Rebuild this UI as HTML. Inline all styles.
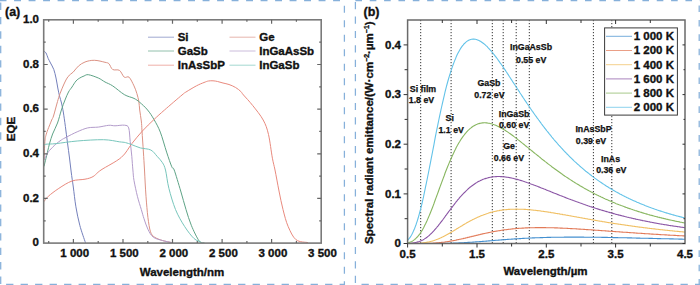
<!DOCTYPE html>
<html><head><meta charset="utf-8"><style>
html,body{margin:0;padding:0;background:#fff;}
svg{display:block;}
</style></head><body>
<svg width="700" height="285" viewBox="0 0 700 285">
<rect width="700" height="285" fill="#fff"/>
<g stroke="#86b0da" stroke-width="1.25" fill="none">
<line x1="0" y1="0.7" x2="345" y2="0.7" stroke-dasharray="6.9 7.60" stroke-dashoffset="0.40"/>
<line x1="0.7" y1="0" x2="0.7" y2="285" stroke-dasharray="7.4 7.02" stroke-dashoffset="11.92"/>
<line x1="0" y1="284.3" x2="345" y2="284.3" stroke-dasharray="7.3 7.20" stroke-dashoffset="8.40"/>
<line x1="344.4" y1="0" x2="344.4" y2="285" stroke-dasharray="6.9 7.60" stroke-dashoffset="8.70"/>
<line x1="355.4" y1="0.7" x2="700" y2="0.7" stroke-dasharray="6.6 7.75" stroke-dashoffset="0.00"/>
<line x1="355.4" y1="0" x2="355.4" y2="285" stroke-dasharray="7.2 7.20" stroke-dashoffset="12.30"/>
<line x1="355.4" y1="284.3" x2="700" y2="284.3" stroke-dasharray="7.3 7.20" stroke-dashoffset="8.40"/>
<line x1="699.2" y1="0" x2="699.2" y2="285" stroke-dasharray="6.6 7.80" stroke-dashoffset="8.90"/>
</g>
<path d="M44.0,51.2 C44.3,51.5 45.3,51.8 46.0,53.0 C46.7,54.2 47.5,56.8 48.2,58.5 C49.0,60.2 49.6,61.2 50.5,63.0 C51.4,64.8 52.9,67.0 53.8,69.5 C54.7,72.0 55.3,74.9 56.0,78.0 C56.7,81.1 57.2,85.0 57.8,88.0 C58.4,91.0 58.9,93.5 59.5,96.0 C60.1,98.5 60.9,100.3 61.5,103.0 C62.1,105.7 62.6,108.1 63.3,112.0 C63.9,115.9 64.7,121.4 65.4,126.6 C66.1,131.8 66.8,137.8 67.5,143.0 C68.2,148.2 68.9,153.2 69.5,158.0 C70.1,162.8 70.6,167.2 71.2,172.0 C71.8,176.8 72.5,181.2 73.3,187.0 C74.1,192.8 74.8,200.4 75.9,206.8 C77.0,213.2 78.2,219.3 79.8,225.3 C81.4,231.3 84.5,239.9 85.5,242.8" fill="none" stroke="#7480bb" stroke-width="1" stroke-linejoin="round"/>
<path d="M44.0,160.0 C44.1,156.9 44.6,145.4 44.9,141.3 C45.2,137.2 45.4,137.4 45.9,135.5 C46.4,133.6 46.8,132.3 47.8,129.7 C48.8,127.1 50.8,122.3 51.7,120.0 C52.7,117.7 52.5,119.1 53.5,116.0 C54.5,112.9 56.4,105.3 57.5,101.6 C58.6,97.9 58.9,96.6 60.0,93.7 C61.1,90.8 62.7,86.8 64.0,84.0 C65.3,81.2 66.5,78.6 68.0,76.6 C69.5,74.6 71.5,73.8 73.3,72.0 C75.0,70.2 76.5,67.7 78.5,66.0 C80.5,64.3 82.4,63.0 85.0,62.0 C87.6,61.0 91.0,60.2 94.3,60.3 C97.6,60.3 102.6,61.7 105.0,62.3 C107.4,62.9 107.6,62.5 108.9,63.7 C110.2,64.9 110.9,68.4 112.7,69.5 C114.5,70.6 117.6,69.1 119.5,70.4 C121.4,71.7 122.7,76.1 124.3,77.2 C125.9,78.3 127.5,75.8 129.1,77.2 C130.7,78.7 132.7,83.2 134.0,85.9 C135.3,88.6 136.1,91.0 136.9,93.6 C137.7,96.2 138.3,98.6 138.8,101.3 C139.3,104.0 139.3,106.7 139.7,110.0 C140.1,113.3 140.9,117.5 141.3,121.0 C141.7,124.5 141.7,125.8 142.0,131.0 C142.3,136.2 143.0,145.5 143.4,152.0 C143.8,158.5 144.1,162.6 144.5,170.0 C144.9,177.4 145.4,188.4 146.0,196.3 C146.6,204.2 147.2,211.5 147.9,217.4 C148.7,223.3 149.4,228.5 150.5,231.8 C151.6,235.1 152.5,235.7 154.5,237.1 C156.5,238.5 159.6,239.6 162.4,240.5 C165.2,241.4 170.1,242.2 171.6,242.6" fill="none" stroke="#dc9284" stroke-width="1" stroke-linejoin="round"/>
<path d="M44.0,166.4 C44.3,165.1 45.3,161.1 45.9,158.7 C46.5,156.3 46.9,154.6 47.5,152.0 C48.1,149.4 48.9,146.0 49.7,143.0 C50.6,140.0 51.3,137.3 52.6,134.0 C53.9,130.7 56.0,127.0 57.5,123.0 C59.0,119.0 60.1,113.8 61.4,110.0 C62.6,106.2 63.8,103.0 65.0,100.0 C66.2,97.0 67.3,94.2 68.5,92.0 C69.7,89.8 70.8,88.8 72.0,87.0 C73.2,85.2 74.7,82.5 76.0,81.0 C77.3,79.5 78.5,78.8 79.8,78.0 C81.1,77.2 82.6,76.5 84.0,76.0 C85.4,75.5 85.9,74.4 88.3,74.7 C90.7,75.0 95.5,76.8 98.3,78.0 C101.1,79.2 102.6,80.7 105.0,82.0 C107.4,83.3 109.5,83.8 112.7,85.9 C115.9,88.0 120.8,92.5 124.3,94.6 C127.8,96.7 131.4,97.1 134.0,98.4 C136.6,99.7 137.4,100.4 139.7,102.3 C142.0,104.2 145.2,107.1 147.6,110.0 C150.0,112.9 151.9,115.8 154.0,119.5 C156.1,123.2 158.2,126.7 160.3,132.1 C162.4,137.5 164.7,146.3 166.6,152.1 C168.5,157.9 170.5,163.8 171.8,166.8 C173.1,169.8 172.7,166.0 174.2,170.0 C175.7,174.0 178.7,184.4 180.7,191.0 C182.7,197.6 184.2,203.8 186.0,209.5 C187.8,215.2 189.1,220.1 191.3,225.3 C193.5,230.6 197.0,238.1 199.2,241.0 C201.4,243.9 203.5,242.5 204.4,242.8" fill="none" stroke="#5ea386" stroke-width="1" stroke-linejoin="round"/>
<path d="M44.5,159.5 C44.8,158.8 45.5,156.8 46.3,155.3 C47.1,153.8 47.9,152.3 49.5,150.5 C51.1,148.7 53.8,145.9 55.8,144.2 C57.8,142.4 59.5,141.2 61.3,140.0 C63.1,138.8 64.0,138.4 66.7,137.0 C69.4,135.6 73.7,133.3 77.2,131.8 C80.7,130.3 84.2,128.7 87.7,127.9 C91.2,127.1 94.8,127.5 98.3,127.1 C101.8,126.7 106.0,125.5 108.8,125.3 C111.6,125.1 112.4,125.8 115.0,125.8 C117.6,125.8 122.2,124.8 124.5,125.2 C126.8,125.6 127.7,125.2 128.7,127.9 C129.6,130.6 129.7,136.9 130.2,141.6 C130.7,146.3 131.4,151.6 131.8,156.3 C132.2,161.0 132.5,166.0 132.9,170.0 C133.3,174.0 133.2,176.1 134.0,180.5 C134.8,184.9 136.2,191.5 137.4,196.3 C138.6,201.1 140.2,205.8 141.3,209.5 C142.4,213.2 142.9,215.4 144.0,218.7 C145.1,222.0 146.4,226.1 147.9,229.2 C149.4,232.3 150.8,235.2 153.2,237.1 C155.6,239.0 159.3,239.6 162.4,240.5 C165.5,241.4 170.1,242.2 171.6,242.6" fill="none" stroke="#b39ccb" stroke-width="1" stroke-linejoin="round"/>
<path d="M44.0,201.6 C44.7,200.7 45.8,198.5 48.3,196.3 C50.8,194.1 54.8,191.0 58.8,188.4 C62.8,185.8 67.6,182.5 72.0,181.0 C76.4,179.5 81.5,179.9 85.0,179.2 C88.5,178.5 90.3,178.1 93.0,176.6 C95.7,175.1 96.3,173.2 101.0,170.0 C105.7,166.8 116.2,161.8 121.3,157.4 C126.4,153.0 128.3,148.1 131.8,143.7 C135.3,139.3 138.7,135.0 142.4,131.0 C146.1,127.0 150.3,123.0 154.0,119.5 C157.7,116.0 159.8,114.1 164.5,110.0 C169.2,105.9 178.4,98.0 182.0,95.0 C185.6,92.0 183.6,93.5 186.0,92.0 C188.4,90.5 193.5,87.4 196.5,85.8 C199.5,84.2 202.0,83.3 204.0,82.5 C206.0,81.7 206.9,81.3 208.4,81.0 C209.9,80.7 211.5,80.7 213.0,80.8 C214.5,80.9 215.9,81.1 217.6,81.5 C219.3,81.9 221.1,82.5 223.0,83.0 C224.9,83.5 226.9,83.8 229.0,84.5 C231.1,85.2 233.6,86.3 235.6,87.5 C237.6,88.7 239.5,90.2 240.8,91.5 C242.1,92.8 241.5,92.7 243.5,95.0 C245.5,97.3 249.4,101.3 252.7,105.5 C256.0,109.7 260.6,115.2 263.2,120.0 C265.8,124.8 267.0,128.1 268.5,134.5 C270.0,140.9 271.3,152.3 272.4,158.2 C273.5,164.1 273.9,164.5 275.0,170.0 C276.1,175.5 277.7,184.4 279.0,191.0 C280.3,197.6 281.5,203.6 283.0,209.5 C284.5,215.4 286.0,221.6 288.2,226.6 C290.4,231.6 292.7,237.0 296.0,239.7 C299.3,242.4 306.0,242.1 308.0,242.6" fill="none" stroke="#e98a7e" stroke-width="1" stroke-linejoin="round"/>
<path d="M44.0,146.0 C44.2,145.7 43.5,144.7 45.5,144.3 C47.5,143.9 50.9,144.2 56.2,143.6 C61.5,143.0 69.3,141.7 77.2,141.0 C85.1,140.3 96.5,139.6 103.5,139.7 C110.5,139.8 115.6,141.3 119.3,141.8 C123.0,142.3 123.4,142.1 125.5,142.6 C127.6,143.1 129.3,143.8 131.8,144.7 C134.3,145.6 137.1,147.0 140.3,147.9 C143.5,148.8 148.0,148.6 150.8,150.0 C153.6,151.4 155.2,154.2 157.1,156.3 C159.0,158.4 161.0,160.3 162.4,162.6 C163.8,164.9 164.4,165.7 165.5,170.0 C166.6,174.3 167.2,181.8 168.9,188.4 C170.6,195.0 172.9,203.1 175.5,209.5 C178.1,215.9 181.6,221.8 184.7,226.6 C187.8,231.4 191.1,235.7 193.9,238.4 C196.8,241.1 200.5,241.9 201.8,242.6" fill="none" stroke="#78c6bc" stroke-width="1" stroke-linejoin="round"/>
<rect x="43.7" y="19.8" width="277.5" height="223.29999999999998" fill="none" stroke="#7a7a7a" stroke-width="1.6"/>
<path d="M48.7,243.1 v-2 M48.7,19.8 v2 M73.4,243.1 v-4 M73.4,19.8 v4 M98.2,243.1 v-2 M98.2,19.8 v2 M123.0,243.1 v-4 M123.0,19.8 v4 M147.8,243.1 v-2 M147.8,19.8 v2 M172.5,243.1 v-4 M172.5,19.8 v4 M197.3,243.1 v-2 M197.3,19.8 v2 M222.1,243.1 v-4 M222.1,19.8 v4 M246.9,243.1 v-2 M246.9,19.8 v2 M271.6,243.1 v-4 M271.6,19.8 v4 M296.4,243.1 v-2 M296.4,19.8 v2 M43.7,220.8 h2 M321.2,220.8 h-2 M43.7,198.4 h4 M321.2,198.4 h-4 M43.7,176.1 h2 M321.2,176.1 h-2 M43.7,153.8 h4 M321.2,153.8 h-4 M43.7,131.4 h2 M321.2,131.4 h-2 M43.7,109.1 h4 M321.2,109.1 h-4 M43.7,86.8 h2 M321.2,86.8 h-2 M43.7,64.5 h4 M321.2,64.5 h-4 M43.7,42.1 h2 M321.2,42.1 h-2" stroke="#666" stroke-width="1.2" fill="none"/>
<g font-family='"Liberation Sans", sans-serif' font-weight='bold' font-size='11.5' fill='#111' stroke='#111' stroke-width='0.35'>
<text x="74.7" y="257" text-anchor="middle">1 000</text>
<text x="124.3" y="257" text-anchor="middle">1 500</text>
<text x="173.8" y="257" text-anchor="middle">2 000</text>
<text x="223.4" y="257" text-anchor="middle">2 500</text>
<text x="272.9" y="257" text-anchor="middle">3 000</text>
<text x="322.5" y="257" text-anchor="middle">3 500</text>
<text x="39" y="246.4" text-anchor="end">0</text>
<text x="39" y="201.7" text-anchor="end">0.2</text>
<text x="39" y="157.1" text-anchor="end">0.4</text>
<text x="39" y="112.4" text-anchor="end">0.6</text>
<text x="39" y="67.8" text-anchor="end">0.8</text>
<text x="39" y="23.1" text-anchor="end">1.0</text>
</g>
<text x='182' y='275.5' text-anchor='middle' font-family='"Liberation Sans", sans-serif' font-weight='bold' font-size='11.5' fill='#111' stroke='#111' stroke-width='0.35'>Wavelength/nm</text>
<text transform='translate(15.2,129) rotate(-90)' text-anchor='middle' font-family='"Liberation Sans", sans-serif' font-weight='bold' font-size='11.5' fill='#111' stroke='#111' stroke-width='0.35'>EQE</text>
<text x='5' y='16' font-family='"Liberation Sans", sans-serif' font-weight='bold' font-size='12.5' fill='#111' stroke='#111' stroke-width='0.35'>(a)</text>
<line x1="148" y1="37.2" x2="174" y2="37.2" stroke="#7480bb" stroke-width="0.9" opacity="0.75"/>
<text x='177.7' y='41.0' font-family='"Liberation Sans", sans-serif' font-weight='bold' font-size='11.5' fill='#111' stroke='#111' stroke-width='0.35'>Si</text>
<line x1="148" y1="51" x2="174" y2="51" stroke="#5ea386" stroke-width="0.9" opacity="0.75"/>
<text x='177.7' y='54.8' font-family='"Liberation Sans", sans-serif' font-weight='bold' font-size='11.5' fill='#111' stroke='#111' stroke-width='0.35'>GaSb</text>
<line x1="148" y1="65.2" x2="174" y2="65.2" stroke="#e98a7e" stroke-width="0.9" opacity="0.75"/>
<text x='177.7' y='69.0' font-family='"Liberation Sans", sans-serif' font-weight='bold' font-size='11.5' fill='#111' stroke='#111' stroke-width='0.35'>InAsSbP</text>
<line x1="229.5" y1="37.2" x2="255.5" y2="37.2" stroke="#dc9284" stroke-width="0.9" opacity="0.75"/>
<text x='259.2' y='41.0' font-family='"Liberation Sans", sans-serif' font-weight='bold' font-size='11.5' fill='#111' stroke='#111' stroke-width='0.35'>Ge</text>
<line x1="229.5" y1="51" x2="255.5" y2="51" stroke="#b39ccb" stroke-width="0.9" opacity="0.75"/>
<text x='259.2' y='54.8' font-family='"Liberation Sans", sans-serif' font-weight='bold' font-size='11.5' fill='#111' stroke='#111' stroke-width='0.35'>InGaAsSb</text>
<line x1="229.5" y1="65.2" x2="255.5" y2="65.2" stroke="#78c6bc" stroke-width="0.9" opacity="0.75"/>
<text x='259.2' y='69.0' font-family='"Liberation Sans", sans-serif' font-weight='bold' font-size='11.5' fill='#111' stroke='#111' stroke-width='0.35'>InGaSb</text>
<line x1="420.7" y1="20.0" x2="420.7" y2="243.5" stroke="#333" stroke-width="1" stroke-dasharray="1.2 1.8"/>
<line x1="451.1" y1="20.0" x2="451.1" y2="243.5" stroke="#333" stroke-width="1" stroke-dasharray="1.2 1.8"/>
<line x1="492.3" y1="20.0" x2="492.3" y2="243.5" stroke="#333" stroke-width="1" stroke-dasharray="1.2 1.8"/>
<line x1="503.2" y1="20.0" x2="503.2" y2="243.5" stroke="#333" stroke-width="1" stroke-dasharray="1.2 1.8"/>
<line x1="516.2" y1="20.0" x2="516.2" y2="243.5" stroke="#333" stroke-width="1" stroke-dasharray="1.2 1.8"/>
<line x1="529.3" y1="20.0" x2="529.3" y2="243.5" stroke="#333" stroke-width="1" stroke-dasharray="1.2 1.8"/>
<line x1="593.4" y1="20.0" x2="593.4" y2="243.5" stroke="#333" stroke-width="1" stroke-dasharray="1.2 1.8"/>
<line x1="611.8" y1="20.0" x2="611.8" y2="243.5" stroke="#333" stroke-width="1" stroke-dasharray="1.2 1.8"/>
<path d="M407.6,243.5 L408.3,243.5 L409.0,243.5 L409.7,243.5 L410.4,243.5 L411.1,243.5 L411.8,243.5 L412.5,243.5 L413.1,243.5 L413.8,243.5 L414.5,243.5 L415.2,243.5 L415.9,243.5 L416.6,243.5 L417.3,243.5 L418.0,243.5 L418.7,243.5 L419.4,243.5 L420.1,243.5 L420.8,243.5 L421.5,243.5 L422.2,243.5 L422.9,243.5 L423.6,243.5 L424.2,243.5 L424.9,243.5 L425.6,243.5 L426.3,243.5 L427.0,243.5 L427.7,243.5 L428.4,243.5 L429.1,243.5 L429.8,243.5 L430.5,243.5 L431.2,243.5 L431.9,243.5 L432.6,243.5 L433.3,243.5 L434.0,243.5 L434.6,243.5 L435.3,243.5 L436.0,243.5 L436.7,243.5 L437.4,243.4 L438.1,243.4 L438.8,243.4 L439.5,243.4 L440.2,243.4 L440.9,243.4 L441.6,243.4 L442.3,243.4 L443.0,243.4 L443.7,243.4 L444.4,243.4 L445.0,243.4 L445.7,243.3 L446.4,243.3 L447.1,243.3 L447.8,243.3 L448.5,243.3 L449.2,243.3 L449.9,243.2 L450.6,243.2 L451.3,243.2 L452.0,243.2 L452.7,243.2 L453.4,243.1 L454.1,243.1 L454.8,243.1 L455.5,243.1 L456.1,243.0 L456.8,243.0 L457.5,243.0 L458.2,243.0 L458.9,242.9 L459.6,242.9 L460.3,242.9 L461.0,242.8 L461.7,242.8 L462.4,242.8 L463.1,242.7 L463.8,242.7 L464.5,242.6 L465.2,242.6 L465.9,242.6 L466.5,242.5 L467.2,242.5 L467.9,242.4 L468.6,242.4 L469.3,242.4 L470.0,242.3 L470.7,242.3 L471.4,242.2 L472.1,242.2 L472.8,242.1 L473.5,242.1 L474.2,242.0 L474.9,242.0 L475.6,241.9 L476.3,241.9 L477.0,241.8 L477.6,241.8 L478.3,241.7 L479.0,241.7 L479.7,241.6 L480.4,241.6 L481.1,241.5 L481.8,241.5 L482.5,241.4 L483.2,241.4 L483.9,241.3 L484.6,241.2 L485.3,241.2 L486.0,241.1 L486.7,241.1 L487.4,241.0 L488.0,241.0 L488.7,240.9 L489.4,240.9 L490.1,240.8 L490.8,240.7 L491.5,240.7 L492.2,240.6 L492.9,240.6 L493.6,240.5 L494.3,240.5 L495.0,240.4 L495.7,240.3 L496.4,240.3 L497.1,240.2 L497.8,240.2 L498.4,240.1 L499.1,240.1 L499.8,240.0 L500.5,240.0 L501.2,239.9 L501.9,239.9 L502.6,239.8 L503.3,239.7 L504.0,239.7 L504.7,239.6 L505.4,239.6 L506.1,239.5 L506.8,239.5 L507.5,239.4 L508.2,239.4 L508.9,239.3 L509.5,239.3 L510.2,239.2 L510.9,239.2 L511.6,239.1 L512.3,239.1 L513.0,239.0 L513.7,239.0 L514.4,238.9 L515.1,238.9 L515.8,238.9 L516.5,238.8 L517.2,238.8 L517.9,238.7 L518.6,238.7 L519.3,238.6 L519.9,238.6 L520.6,238.6 L521.3,238.5 L522.0,238.5 L522.7,238.4 L523.4,238.4 L524.1,238.4 L524.8,238.3 L525.5,238.3 L526.2,238.2 L526.9,238.2 L527.6,238.2 L528.3,238.1 L529.0,238.1 L529.7,238.1 L530.3,238.0 L531.0,238.0 L531.7,238.0 L532.4,237.9 L533.1,237.9 L533.8,237.9 L534.5,237.9 L535.2,237.8 L535.9,237.8 L536.6,237.8 L537.3,237.8 L538.0,237.7 L538.7,237.7 L539.4,237.7 L540.1,237.6 L540.8,237.6 L541.4,237.6 L542.1,237.6 L542.8,237.6 L543.5,237.5 L544.2,237.5 L544.9,237.5 L545.6,237.5 L546.3,237.5 L547.0,237.4 L547.7,237.4 L548.4,237.4 L549.1,237.4 L549.8,237.4 L550.5,237.4 L551.2,237.3 L551.8,237.3 L552.5,237.3 L553.2,237.3 L553.9,237.3 L554.6,237.3 L555.3,237.3 L556.0,237.2 L556.7,237.2 L557.4,237.2 L558.1,237.2 L558.8,237.2 L559.5,237.2 L560.2,237.2 L560.9,237.2 L561.6,237.2 L562.3,237.2 L562.9,237.2 L563.6,237.2 L564.3,237.1 L565.0,237.1 L565.7,237.1 L566.4,237.1 L567.1,237.1 L567.8,237.1 L568.5,237.1 L569.2,237.1 L569.9,237.1 L570.6,237.1 L571.3,237.1 L572.0,237.1 L572.7,237.1 L573.3,237.1 L574.0,237.1 L574.7,237.1 L575.4,237.1 L576.1,237.1 L576.8,237.1 L577.5,237.1 L578.2,237.1 L578.9,237.1 L579.6,237.1 L580.3,237.1 L581.0,237.1 L581.7,237.1 L582.4,237.1 L583.1,237.1 L583.7,237.1 L584.4,237.2 L585.1,237.2 L585.8,237.2 L586.5,237.2 L587.2,237.2 L587.9,237.2 L588.6,237.2 L589.3,237.2 L590.0,237.2 L590.7,237.2 L591.4,237.2 L592.1,237.2 L592.8,237.2 L593.5,237.2 L594.2,237.2 L594.8,237.3 L595.5,237.3 L596.2,237.3 L596.9,237.3 L597.6,237.3 L598.3,237.3 L599.0,237.3 L599.7,237.3 L600.4,237.3 L601.1,237.3 L601.8,237.4 L602.5,237.4 L603.2,237.4 L603.9,237.4 L604.6,237.4 L605.2,237.4 L605.9,237.4 L606.6,237.4 L607.3,237.4 L608.0,237.5 L608.7,237.5 L609.4,237.5 L610.1,237.5 L610.8,237.5 L611.5,237.5 L612.2,237.5 L612.9,237.6 L613.6,237.6 L614.3,237.6 L615.0,237.6 L615.6,237.6 L616.3,237.6 L617.0,237.6 L617.7,237.6 L618.4,237.7 L619.1,237.7 L619.8,237.7 L620.5,237.7 L621.2,237.7 L621.9,237.7 L622.6,237.7 L623.3,237.8 L624.0,237.8 L624.7,237.8 L625.4,237.8 L626.1,237.8 L626.7,237.8 L627.4,237.9 L628.1,237.9 L628.8,237.9 L629.5,237.9 L630.2,237.9 L630.9,237.9 L631.6,237.9 L632.3,238.0 L633.0,238.0 L633.7,238.0 L634.4,238.0 L635.1,238.0 L635.8,238.0 L636.5,238.1 L637.1,238.1 L637.8,238.1 L638.5,238.1 L639.2,238.1 L639.9,238.1 L640.6,238.2 L641.3,238.2 L642.0,238.2 L642.7,238.2 L643.4,238.2 L644.1,238.2 L644.8,238.3 L645.5,238.3 L646.2,238.3 L646.9,238.3 L647.6,238.3 L648.2,238.3 L648.9,238.4 L649.6,238.4 L650.3,238.4 L651.0,238.4 L651.7,238.4 L652.4,238.4 L653.1,238.5 L653.8,238.5 L654.5,238.5 L655.2,238.5 L655.9,238.5 L656.6,238.5 L657.3,238.6 L658.0,238.6 L658.6,238.6 L659.3,238.6 L660.0,238.6 L660.7,238.6 L661.4,238.7 L662.1,238.7 L662.8,238.7 L663.5,238.7 L664.2,238.7 L664.9,238.7 L665.6,238.8 L666.3,238.8 L667.0,238.8 L667.7,238.8 L668.4,238.8 L669.0,238.8 L669.7,238.9 L670.4,238.9 L671.1,238.9 L671.8,238.9 L672.5,238.9 L673.2,238.9 L673.9,239.0 L674.6,239.0 L675.3,239.0 L676.0,239.0 L676.7,239.0 L677.4,239.0 L678.1,239.0 L678.8,239.1 L679.5,239.1 L680.1,239.1 L680.8,239.1 L681.5,239.1 L682.2,239.1 L682.9,239.2 L683.6,239.2 L684.3,239.2 L685.0,239.2" fill="none" stroke="#4490d0" stroke-width="1.1"/>
<path d="M407.6,243.5 L408.3,243.5 L409.0,243.5 L409.7,243.5 L410.4,243.5 L411.1,243.5 L411.8,243.5 L412.5,243.5 L413.1,243.5 L413.8,243.5 L414.5,243.5 L415.2,243.5 L415.9,243.5 L416.6,243.5 L417.3,243.5 L418.0,243.5 L418.7,243.5 L419.4,243.5 L420.1,243.5 L420.8,243.5 L421.5,243.5 L422.2,243.5 L422.9,243.4 L423.6,243.4 L424.2,243.4 L424.9,243.4 L425.6,243.4 L426.3,243.4 L427.0,243.4 L427.7,243.3 L428.4,243.3 L429.1,243.3 L429.8,243.3 L430.5,243.2 L431.2,243.2 L431.9,243.2 L432.6,243.2 L433.3,243.1 L434.0,243.1 L434.6,243.0 L435.3,243.0 L436.0,242.9 L436.7,242.9 L437.4,242.8 L438.1,242.8 L438.8,242.7 L439.5,242.6 L440.2,242.6 L440.9,242.5 L441.6,242.4 L442.3,242.3 L443.0,242.3 L443.7,242.2 L444.4,242.1 L445.0,242.0 L445.7,241.9 L446.4,241.8 L447.1,241.7 L447.8,241.6 L448.5,241.5 L449.2,241.4 L449.9,241.3 L450.6,241.1 L451.3,241.0 L452.0,240.9 L452.7,240.8 L453.4,240.6 L454.1,240.5 L454.8,240.4 L455.5,240.2 L456.1,240.1 L456.8,239.9 L457.5,239.8 L458.2,239.6 L458.9,239.5 L459.6,239.3 L460.3,239.2 L461.0,239.0 L461.7,238.9 L462.4,238.7 L463.1,238.6 L463.8,238.4 L464.5,238.2 L465.2,238.1 L465.9,237.9 L466.5,237.7 L467.2,237.6 L467.9,237.4 L468.6,237.2 L469.3,237.1 L470.0,236.9 L470.7,236.7 L471.4,236.6 L472.1,236.4 L472.8,236.2 L473.5,236.1 L474.2,235.9 L474.9,235.7 L475.6,235.6 L476.3,235.4 L477.0,235.2 L477.6,235.1 L478.3,234.9 L479.0,234.7 L479.7,234.6 L480.4,234.4 L481.1,234.3 L481.8,234.1 L482.5,233.9 L483.2,233.8 L483.9,233.6 L484.6,233.5 L485.3,233.3 L486.0,233.2 L486.7,233.0 L487.4,232.9 L488.0,232.7 L488.7,232.6 L489.4,232.5 L490.1,232.3 L490.8,232.2 L491.5,232.0 L492.2,231.9 L492.9,231.8 L493.6,231.6 L494.3,231.5 L495.0,231.4 L495.7,231.3 L496.4,231.1 L497.1,231.0 L497.8,230.9 L498.4,230.8 L499.1,230.7 L499.8,230.6 L500.5,230.5 L501.2,230.3 L501.9,230.2 L502.6,230.1 L503.3,230.0 L504.0,229.9 L504.7,229.8 L505.4,229.7 L506.1,229.7 L506.8,229.6 L507.5,229.5 L508.2,229.4 L508.9,229.3 L509.5,229.2 L510.2,229.2 L510.9,229.1 L511.6,229.0 L512.3,228.9 L513.0,228.9 L513.7,228.8 L514.4,228.7 L515.1,228.7 L515.8,228.6 L516.5,228.5 L517.2,228.5 L517.9,228.4 L518.6,228.4 L519.3,228.3 L519.9,228.3 L520.6,228.2 L521.3,228.2 L522.0,228.1 L522.7,228.1 L523.4,228.1 L524.1,228.0 L524.8,228.0 L525.5,227.9 L526.2,227.9 L526.9,227.9 L527.6,227.9 L528.3,227.8 L529.0,227.8 L529.7,227.8 L530.3,227.8 L531.0,227.7 L531.7,227.7 L532.4,227.7 L533.1,227.7 L533.8,227.7 L534.5,227.7 L535.2,227.6 L535.9,227.6 L536.6,227.6 L537.3,227.6 L538.0,227.6 L538.7,227.6 L539.4,227.6 L540.1,227.6 L540.8,227.6 L541.4,227.6 L542.1,227.6 L542.8,227.6 L543.5,227.6 L544.2,227.6 L544.9,227.6 L545.6,227.6 L546.3,227.7 L547.0,227.7 L547.7,227.7 L548.4,227.7 L549.1,227.7 L549.8,227.7 L550.5,227.7 L551.2,227.8 L551.8,227.8 L552.5,227.8 L553.2,227.8 L553.9,227.8 L554.6,227.9 L555.3,227.9 L556.0,227.9 L556.7,227.9 L557.4,227.9 L558.1,228.0 L558.8,228.0 L559.5,228.0 L560.2,228.1 L560.9,228.1 L561.6,228.1 L562.3,228.1 L562.9,228.2 L563.6,228.2 L564.3,228.2 L565.0,228.3 L565.7,228.3 L566.4,228.3 L567.1,228.4 L567.8,228.4 L568.5,228.5 L569.2,228.5 L569.9,228.5 L570.6,228.6 L571.3,228.6 L572.0,228.6 L572.7,228.7 L573.3,228.7 L574.0,228.8 L574.7,228.8 L575.4,228.8 L576.1,228.9 L576.8,228.9 L577.5,229.0 L578.2,229.0 L578.9,229.1 L579.6,229.1 L580.3,229.1 L581.0,229.2 L581.7,229.2 L582.4,229.3 L583.1,229.3 L583.7,229.4 L584.4,229.4 L585.1,229.5 L585.8,229.5 L586.5,229.6 L587.2,229.6 L587.9,229.6 L588.6,229.7 L589.3,229.7 L590.0,229.8 L590.7,229.8 L591.4,229.9 L592.1,229.9 L592.8,230.0 L593.5,230.0 L594.2,230.1 L594.8,230.1 L595.5,230.2 L596.2,230.2 L596.9,230.3 L597.6,230.3 L598.3,230.4 L599.0,230.4 L599.7,230.5 L600.4,230.5 L601.1,230.6 L601.8,230.6 L602.5,230.7 L603.2,230.7 L603.9,230.8 L604.6,230.8 L605.2,230.9 L605.9,230.9 L606.6,231.0 L607.3,231.0 L608.0,231.1 L608.7,231.1 L609.4,231.2 L610.1,231.2 L610.8,231.3 L611.5,231.3 L612.2,231.4 L612.9,231.4 L613.6,231.5 L614.3,231.5 L615.0,231.6 L615.6,231.6 L616.3,231.7 L617.0,231.7 L617.7,231.8 L618.4,231.8 L619.1,231.9 L619.8,231.9 L620.5,232.0 L621.2,232.0 L621.9,232.1 L622.6,232.1 L623.3,232.2 L624.0,232.2 L624.7,232.2 L625.4,232.3 L626.1,232.3 L626.7,232.4 L627.4,232.4 L628.1,232.5 L628.8,232.5 L629.5,232.6 L630.2,232.6 L630.9,232.7 L631.6,232.7 L632.3,232.8 L633.0,232.8 L633.7,232.9 L634.4,232.9 L635.1,233.0 L635.8,233.0 L636.5,233.1 L637.1,233.1 L637.8,233.2 L638.5,233.2 L639.2,233.2 L639.9,233.3 L640.6,233.3 L641.3,233.4 L642.0,233.4 L642.7,233.5 L643.4,233.5 L644.1,233.6 L644.8,233.6 L645.5,233.7 L646.2,233.7 L646.9,233.7 L647.6,233.8 L648.2,233.8 L648.9,233.9 L649.6,233.9 L650.3,234.0 L651.0,234.0 L651.7,234.1 L652.4,234.1 L653.1,234.1 L653.8,234.2 L654.5,234.2 L655.2,234.3 L655.9,234.3 L656.6,234.4 L657.3,234.4 L658.0,234.4 L658.6,234.5 L659.3,234.5 L660.0,234.6 L660.7,234.6 L661.4,234.7 L662.1,234.7 L662.8,234.7 L663.5,234.8 L664.2,234.8 L664.9,234.9 L665.6,234.9 L666.3,234.9 L667.0,235.0 L667.7,235.0 L668.4,235.1 L669.0,235.1 L669.7,235.1 L670.4,235.2 L671.1,235.2 L671.8,235.3 L672.5,235.3 L673.2,235.3 L673.9,235.4 L674.6,235.4 L675.3,235.4 L676.0,235.5 L676.7,235.5 L677.4,235.6 L678.1,235.6 L678.8,235.6 L679.5,235.7 L680.1,235.7 L680.8,235.7 L681.5,235.8 L682.2,235.8 L682.9,235.9 L683.6,235.9 L684.3,235.9 L685.0,236.0" fill="none" stroke="#e27a58" stroke-width="1.1"/>
<path d="M407.6,243.5 L408.3,243.5 L409.0,243.5 L409.7,243.5 L410.4,243.5 L411.1,243.5 L411.8,243.5 L412.5,243.5 L413.1,243.4 L413.8,243.4 L414.5,243.4 L415.2,243.4 L415.9,243.4 L416.6,243.3 L417.3,243.3 L418.0,243.3 L418.7,243.2 L419.4,243.2 L420.1,243.2 L420.8,243.1 L421.5,243.0 L422.2,243.0 L422.9,242.9 L423.6,242.8 L424.2,242.7 L424.9,242.6 L425.6,242.5 L426.3,242.4 L427.0,242.3 L427.7,242.1 L428.4,242.0 L429.1,241.9 L429.8,241.7 L430.5,241.5 L431.2,241.3 L431.9,241.2 L432.6,240.9 L433.3,240.7 L434.0,240.5 L434.6,240.3 L435.3,240.0 L436.0,239.8 L436.7,239.5 L437.4,239.3 L438.1,239.0 L438.8,238.7 L439.5,238.4 L440.2,238.1 L440.9,237.8 L441.6,237.4 L442.3,237.1 L443.0,236.8 L443.7,236.4 L444.4,236.1 L445.0,235.7 L445.7,235.3 L446.4,235.0 L447.1,234.6 L447.8,234.2 L448.5,233.8 L449.2,233.4 L449.9,233.0 L450.6,232.6 L451.3,232.2 L452.0,231.8 L452.7,231.4 L453.4,230.9 L454.1,230.5 L454.8,230.1 L455.5,229.7 L456.1,229.3 L456.8,228.8 L457.5,228.4 L458.2,228.0 L458.9,227.6 L459.6,227.1 L460.3,226.7 L461.0,226.3 L461.7,225.9 L462.4,225.5 L463.1,225.0 L463.8,224.6 L464.5,224.2 L465.2,223.8 L465.9,223.4 L466.5,223.0 L467.2,222.6 L467.9,222.2 L468.6,221.8 L469.3,221.5 L470.0,221.1 L470.7,220.7 L471.4,220.3 L472.1,220.0 L472.8,219.6 L473.5,219.3 L474.2,218.9 L474.9,218.6 L475.6,218.2 L476.3,217.9 L477.0,217.6 L477.6,217.3 L478.3,217.0 L479.0,216.7 L479.7,216.4 L480.4,216.1 L481.1,215.8 L481.8,215.5 L482.5,215.2 L483.2,215.0 L483.9,214.7 L484.6,214.4 L485.3,214.2 L486.0,213.9 L486.7,213.7 L487.4,213.5 L488.0,213.3 L488.7,213.0 L489.4,212.8 L490.1,212.6 L490.8,212.4 L491.5,212.2 L492.2,212.1 L492.9,211.9 L493.6,211.7 L494.3,211.5 L495.0,211.4 L495.7,211.2 L496.4,211.1 L497.1,210.9 L497.8,210.8 L498.4,210.7 L499.1,210.6 L499.8,210.4 L500.5,210.3 L501.2,210.2 L501.9,210.1 L502.6,210.0 L503.3,209.9 L504.0,209.8 L504.7,209.8 L505.4,209.7 L506.1,209.6 L506.8,209.6 L507.5,209.5 L508.2,209.4 L508.9,209.4 L509.5,209.4 L510.2,209.3 L510.9,209.3 L511.6,209.2 L512.3,209.2 L513.0,209.2 L513.7,209.2 L514.4,209.2 L515.1,209.2 L515.8,209.1 L516.5,209.1 L517.2,209.1 L517.9,209.2 L518.6,209.2 L519.3,209.2 L519.9,209.2 L520.6,209.2 L521.3,209.2 L522.0,209.3 L522.7,209.3 L523.4,209.3 L524.1,209.4 L524.8,209.4 L525.5,209.4 L526.2,209.5 L526.9,209.5 L527.6,209.6 L528.3,209.6 L529.0,209.7 L529.7,209.8 L530.3,209.8 L531.0,209.9 L531.7,210.0 L532.4,210.0 L533.1,210.1 L533.8,210.2 L534.5,210.2 L535.2,210.3 L535.9,210.4 L536.6,210.5 L537.3,210.6 L538.0,210.6 L538.7,210.7 L539.4,210.8 L540.1,210.9 L540.8,211.0 L541.4,211.1 L542.1,211.2 L542.8,211.3 L543.5,211.4 L544.2,211.5 L544.9,211.6 L545.6,211.7 L546.3,211.8 L547.0,211.9 L547.7,212.0 L548.4,212.1 L549.1,212.2 L549.8,212.3 L550.5,212.4 L551.2,212.6 L551.8,212.7 L552.5,212.8 L553.2,212.9 L553.9,213.0 L554.6,213.1 L555.3,213.2 L556.0,213.4 L556.7,213.5 L557.4,213.6 L558.1,213.7 L558.8,213.8 L559.5,213.9 L560.2,214.1 L560.9,214.2 L561.6,214.3 L562.3,214.4 L562.9,214.6 L563.6,214.7 L564.3,214.8 L565.0,214.9 L565.7,215.0 L566.4,215.2 L567.1,215.3 L567.8,215.4 L568.5,215.5 L569.2,215.7 L569.9,215.8 L570.6,215.9 L571.3,216.0 L572.0,216.2 L572.7,216.3 L573.3,216.4 L574.0,216.5 L574.7,216.7 L575.4,216.8 L576.1,216.9 L576.8,217.0 L577.5,217.2 L578.2,217.3 L578.9,217.4 L579.6,217.5 L580.3,217.7 L581.0,217.8 L581.7,217.9 L582.4,218.0 L583.1,218.2 L583.7,218.3 L584.4,218.4 L585.1,218.5 L585.8,218.7 L586.5,218.8 L587.2,218.9 L587.9,219.0 L588.6,219.2 L589.3,219.3 L590.0,219.4 L590.7,219.5 L591.4,219.7 L592.1,219.8 L592.8,219.9 L593.5,220.0 L594.2,220.1 L594.8,220.3 L595.5,220.4 L596.2,220.5 L596.9,220.6 L597.6,220.7 L598.3,220.9 L599.0,221.0 L599.7,221.1 L600.4,221.2 L601.1,221.3 L601.8,221.4 L602.5,221.6 L603.2,221.7 L603.9,221.8 L604.6,221.9 L605.2,222.0 L605.9,222.1 L606.6,222.2 L607.3,222.4 L608.0,222.5 L608.7,222.6 L609.4,222.7 L610.1,222.8 L610.8,222.9 L611.5,223.0 L612.2,223.1 L612.9,223.2 L613.6,223.4 L614.3,223.5 L615.0,223.6 L615.6,223.7 L616.3,223.8 L617.0,223.9 L617.7,224.0 L618.4,224.1 L619.1,224.2 L619.8,224.3 L620.5,224.4 L621.2,224.5 L621.9,224.6 L622.6,224.7 L623.3,224.8 L624.0,224.9 L624.7,225.0 L625.4,225.1 L626.1,225.2 L626.7,225.3 L627.4,225.4 L628.1,225.5 L628.8,225.6 L629.5,225.7 L630.2,225.8 L630.9,225.9 L631.6,226.0 L632.3,226.1 L633.0,226.2 L633.7,226.3 L634.4,226.4 L635.1,226.5 L635.8,226.6 L636.5,226.7 L637.1,226.8 L637.8,226.9 L638.5,227.0 L639.2,227.1 L639.9,227.1 L640.6,227.2 L641.3,227.3 L642.0,227.4 L642.7,227.5 L643.4,227.6 L644.1,227.7 L644.8,227.8 L645.5,227.9 L646.2,227.9 L646.9,228.0 L647.6,228.1 L648.2,228.2 L648.9,228.3 L649.6,228.4 L650.3,228.5 L651.0,228.5 L651.7,228.6 L652.4,228.7 L653.1,228.8 L653.8,228.9 L654.5,228.9 L655.2,229.0 L655.9,229.1 L656.6,229.2 L657.3,229.3 L658.0,229.3 L658.6,229.4 L659.3,229.5 L660.0,229.6 L660.7,229.7 L661.4,229.7 L662.1,229.8 L662.8,229.9 L663.5,230.0 L664.2,230.0 L664.9,230.1 L665.6,230.2 L666.3,230.3 L667.0,230.3 L667.7,230.4 L668.4,230.5 L669.0,230.5 L669.7,230.6 L670.4,230.7 L671.1,230.8 L671.8,230.8 L672.5,230.9 L673.2,231.0 L673.9,231.0 L674.6,231.1 L675.3,231.2 L676.0,231.2 L676.7,231.3 L677.4,231.4 L678.1,231.4 L678.8,231.5 L679.5,231.6 L680.1,231.6 L680.8,231.7 L681.5,231.8 L682.2,231.8 L682.9,231.9 L683.6,232.0 L684.3,232.0 L685.0,232.1" fill="none" stroke="#f0bf62" stroke-width="1.1"/>
<path d="M407.6,243.4 L408.3,243.4 L409.0,243.3 L409.7,243.3 L410.4,243.3 L411.1,243.2 L411.8,243.1 L412.5,243.1 L413.1,243.0 L413.8,242.9 L414.5,242.8 L415.2,242.6 L415.9,242.5 L416.6,242.3 L417.3,242.1 L418.0,241.9 L418.7,241.7 L419.4,241.5 L420.1,241.2 L420.8,240.9 L421.5,240.6 L422.2,240.2 L422.9,239.9 L423.6,239.5 L424.2,239.1 L424.9,238.6 L425.6,238.2 L426.3,237.7 L427.0,237.2 L427.7,236.6 L428.4,236.1 L429.1,235.5 L429.8,234.8 L430.5,234.2 L431.2,233.5 L431.9,232.9 L432.6,232.1 L433.3,231.4 L434.0,230.7 L434.6,229.9 L435.3,229.1 L436.0,228.3 L436.7,227.5 L437.4,226.6 L438.1,225.8 L438.8,224.9 L439.5,224.0 L440.2,223.1 L440.9,222.2 L441.6,221.3 L442.3,220.4 L443.0,219.5 L443.7,218.5 L444.4,217.6 L445.0,216.7 L445.7,215.7 L446.4,214.8 L447.1,213.8 L447.8,212.9 L448.5,211.9 L449.2,211.0 L449.9,210.1 L450.6,209.1 L451.3,208.2 L452.0,207.3 L452.7,206.4 L453.4,205.5 L454.1,204.6 L454.8,203.7 L455.5,202.8 L456.1,201.9 L456.8,201.1 L457.5,200.2 L458.2,199.4 L458.9,198.6 L459.6,197.7 L460.3,196.9 L461.0,196.2 L461.7,195.4 L462.4,194.6 L463.1,193.9 L463.8,193.2 L464.5,192.5 L465.2,191.8 L465.9,191.1 L466.5,190.4 L467.2,189.8 L467.9,189.1 L468.6,188.5 L469.3,187.9 L470.0,187.3 L470.7,186.8 L471.4,186.2 L472.1,185.7 L472.8,185.2 L473.5,184.7 L474.2,184.2 L474.9,183.7 L475.6,183.3 L476.3,182.8 L477.0,182.4 L477.6,182.0 L478.3,181.6 L479.0,181.2 L479.7,180.9 L480.4,180.5 L481.1,180.2 L481.8,179.9 L482.5,179.6 L483.2,179.3 L483.9,179.1 L484.6,178.8 L485.3,178.6 L486.0,178.4 L486.7,178.2 L487.4,178.0 L488.0,177.8 L488.7,177.6 L489.4,177.5 L490.1,177.3 L490.8,177.2 L491.5,177.1 L492.2,177.0 L492.9,176.9 L493.6,176.8 L494.3,176.7 L495.0,176.7 L495.7,176.6 L496.4,176.6 L497.1,176.5 L497.8,176.5 L498.4,176.5 L499.1,176.5 L499.8,176.5 L500.5,176.6 L501.2,176.6 L501.9,176.6 L502.6,176.7 L503.3,176.7 L504.0,176.8 L504.7,176.9 L505.4,177.0 L506.1,177.1 L506.8,177.2 L507.5,177.3 L508.2,177.4 L508.9,177.5 L509.5,177.6 L510.2,177.8 L510.9,177.9 L511.6,178.0 L512.3,178.2 L513.0,178.3 L513.7,178.5 L514.4,178.7 L515.1,178.9 L515.8,179.0 L516.5,179.2 L517.2,179.4 L517.9,179.6 L518.6,179.8 L519.3,180.0 L519.9,180.2 L520.6,180.4 L521.3,180.6 L522.0,180.8 L522.7,181.1 L523.4,181.3 L524.1,181.5 L524.8,181.7 L525.5,182.0 L526.2,182.2 L526.9,182.5 L527.6,182.7 L528.3,182.9 L529.0,183.2 L529.7,183.4 L530.3,183.7 L531.0,184.0 L531.7,184.2 L532.4,184.5 L533.1,184.7 L533.8,185.0 L534.5,185.3 L535.2,185.5 L535.9,185.8 L536.6,186.1 L537.3,186.3 L538.0,186.6 L538.7,186.9 L539.4,187.1 L540.1,187.4 L540.8,187.7 L541.4,188.0 L542.1,188.2 L542.8,188.5 L543.5,188.8 L544.2,189.1 L544.9,189.3 L545.6,189.6 L546.3,189.9 L547.0,190.2 L547.7,190.5 L548.4,190.7 L549.1,191.0 L549.8,191.3 L550.5,191.6 L551.2,191.9 L551.8,192.1 L552.5,192.4 L553.2,192.7 L553.9,193.0 L554.6,193.3 L555.3,193.5 L556.0,193.8 L556.7,194.1 L557.4,194.4 L558.1,194.6 L558.8,194.9 L559.5,195.2 L560.2,195.5 L560.9,195.7 L561.6,196.0 L562.3,196.3 L562.9,196.6 L563.6,196.8 L564.3,197.1 L565.0,197.4 L565.7,197.6 L566.4,197.9 L567.1,198.2 L567.8,198.5 L568.5,198.7 L569.2,199.0 L569.9,199.2 L570.6,199.5 L571.3,199.8 L572.0,200.0 L572.7,200.3 L573.3,200.6 L574.0,200.8 L574.7,201.1 L575.4,201.3 L576.1,201.6 L576.8,201.8 L577.5,202.1 L578.2,202.3 L578.9,202.6 L579.6,202.8 L580.3,203.1 L581.0,203.3 L581.7,203.6 L582.4,203.8 L583.1,204.1 L583.7,204.3 L584.4,204.6 L585.1,204.8 L585.8,205.0 L586.5,205.3 L587.2,205.5 L587.9,205.8 L588.6,206.0 L589.3,206.2 L590.0,206.5 L590.7,206.7 L591.4,206.9 L592.1,207.1 L592.8,207.4 L593.5,207.6 L594.2,207.8 L594.8,208.0 L595.5,208.3 L596.2,208.5 L596.9,208.7 L597.6,208.9 L598.3,209.1 L599.0,209.4 L599.7,209.6 L600.4,209.8 L601.1,210.0 L601.8,210.2 L602.5,210.4 L603.2,210.6 L603.9,210.8 L604.6,211.0 L605.2,211.2 L605.9,211.4 L606.6,211.6 L607.3,211.8 L608.0,212.0 L608.7,212.2 L609.4,212.4 L610.1,212.6 L610.8,212.8 L611.5,213.0 L612.2,213.2 L612.9,213.4 L613.6,213.6 L614.3,213.8 L615.0,214.0 L615.6,214.2 L616.3,214.4 L617.0,214.5 L617.7,214.7 L618.4,214.9 L619.1,215.1 L619.8,215.3 L620.5,215.4 L621.2,215.6 L621.9,215.8 L622.6,216.0 L623.3,216.1 L624.0,216.3 L624.7,216.5 L625.4,216.7 L626.1,216.8 L626.7,217.0 L627.4,217.2 L628.1,217.3 L628.8,217.5 L629.5,217.7 L630.2,217.8 L630.9,218.0 L631.6,218.1 L632.3,218.3 L633.0,218.5 L633.7,218.6 L634.4,218.8 L635.1,218.9 L635.8,219.1 L636.5,219.2 L637.1,219.4 L637.8,219.5 L638.5,219.7 L639.2,219.8 L639.9,220.0 L640.6,220.1 L641.3,220.3 L642.0,220.4 L642.7,220.6 L643.4,220.7 L644.1,220.8 L644.8,221.0 L645.5,221.1 L646.2,221.3 L646.9,221.4 L647.6,221.5 L648.2,221.7 L648.9,221.8 L649.6,221.9 L650.3,222.1 L651.0,222.2 L651.7,222.3 L652.4,222.5 L653.1,222.6 L653.8,222.7 L654.5,222.9 L655.2,223.0 L655.9,223.1 L656.6,223.2 L657.3,223.4 L658.0,223.5 L658.6,223.6 L659.3,223.7 L660.0,223.9 L660.7,224.0 L661.4,224.1 L662.1,224.2 L662.8,224.3 L663.5,224.5 L664.2,224.6 L664.9,224.7 L665.6,224.8 L666.3,224.9 L667.0,225.0 L667.7,225.1 L668.4,225.3 L669.0,225.4 L669.7,225.5 L670.4,225.6 L671.1,225.7 L671.8,225.8 L672.5,225.9 L673.2,226.0 L673.9,226.1 L674.6,226.2 L675.3,226.3 L676.0,226.4 L676.7,226.5 L677.4,226.6 L678.1,226.7 L678.8,226.8 L679.5,226.9 L680.1,227.0 L680.8,227.1 L681.5,227.2 L682.2,227.3 L682.9,227.4 L683.6,227.5 L684.3,227.6 L685.0,227.7" fill="none" stroke="#8a55a5" stroke-width="1.1"/>
<path d="M407.6,242.8 L408.3,242.7 L409.0,242.5 L409.7,242.2 L410.4,242.0 L411.1,241.7 L411.8,241.4 L412.5,241.0 L413.1,240.6 L413.8,240.1 L414.5,239.6 L415.2,239.0 L415.9,238.4 L416.6,237.7 L417.3,237.0 L418.0,236.2 L418.7,235.3 L419.4,234.4 L420.1,233.5 L420.8,232.4 L421.5,231.4 L422.2,230.2 L422.9,229.0 L423.6,227.8 L424.2,226.5 L424.9,225.1 L425.6,223.7 L426.3,222.2 L427.0,220.7 L427.7,219.1 L428.4,217.5 L429.1,215.9 L429.8,214.2 L430.5,212.5 L431.2,210.8 L431.9,209.0 L432.6,207.2 L433.3,205.4 L434.0,203.5 L434.6,201.7 L435.3,199.8 L436.0,197.9 L436.7,196.0 L437.4,194.1 L438.1,192.2 L438.8,190.3 L439.5,188.3 L440.2,186.4 L440.9,184.5 L441.6,182.6 L442.3,180.7 L443.0,178.9 L443.7,177.0 L444.4,175.2 L445.0,173.3 L445.7,171.5 L446.4,169.8 L447.1,168.0 L447.8,166.3 L448.5,164.6 L449.2,162.9 L449.9,161.2 L450.6,159.6 L451.3,158.0 L452.0,156.5 L452.7,154.9 L453.4,153.5 L454.1,152.0 L454.8,150.6 L455.5,149.2 L456.1,147.8 L456.8,146.5 L457.5,145.3 L458.2,144.0 L458.9,142.8 L459.6,141.7 L460.3,140.5 L461.0,139.4 L461.7,138.4 L462.4,137.4 L463.1,136.4 L463.8,135.5 L464.5,134.6 L465.2,133.7 L465.9,132.9 L466.5,132.1 L467.2,131.3 L467.9,130.6 L468.6,129.9 L469.3,129.3 L470.0,128.6 L470.7,128.1 L471.4,127.5 L472.1,127.0 L472.8,126.5 L473.5,126.1 L474.2,125.7 L474.9,125.3 L475.6,124.9 L476.3,124.6 L477.0,124.3 L477.6,124.0 L478.3,123.8 L479.0,123.6 L479.7,123.4 L480.4,123.2 L481.1,123.1 L481.8,123.0 L482.5,122.9 L483.2,122.9 L483.9,122.8 L484.6,122.8 L485.3,122.8 L486.0,122.9 L486.7,122.9 L487.4,123.0 L488.0,123.1 L488.7,123.2 L489.4,123.3 L490.1,123.5 L490.8,123.7 L491.5,123.8 L492.2,124.0 L492.9,124.3 L493.6,124.5 L494.3,124.8 L495.0,125.0 L495.7,125.3 L496.4,125.6 L497.1,125.9 L497.8,126.2 L498.4,126.6 L499.1,126.9 L499.8,127.3 L500.5,127.7 L501.2,128.0 L501.9,128.4 L502.6,128.8 L503.3,129.2 L504.0,129.7 L504.7,130.1 L505.4,130.5 L506.1,131.0 L506.8,131.4 L507.5,131.9 L508.2,132.4 L508.9,132.9 L509.5,133.3 L510.2,133.8 L510.9,134.3 L511.6,134.8 L512.3,135.3 L513.0,135.8 L513.7,136.4 L514.4,136.9 L515.1,137.4 L515.8,137.9 L516.5,138.5 L517.2,139.0 L517.9,139.6 L518.6,140.1 L519.3,140.6 L519.9,141.2 L520.6,141.7 L521.3,142.3 L522.0,142.9 L522.7,143.4 L523.4,144.0 L524.1,144.5 L524.8,145.1 L525.5,145.7 L526.2,146.2 L526.9,146.8 L527.6,147.4 L528.3,147.9 L529.0,148.5 L529.7,149.1 L530.3,149.6 L531.0,150.2 L531.7,150.8 L532.4,151.3 L533.1,151.9 L533.8,152.5 L534.5,153.0 L535.2,153.6 L535.9,154.1 L536.6,154.7 L537.3,155.3 L538.0,155.8 L538.7,156.4 L539.4,156.9 L540.1,157.5 L540.8,158.1 L541.4,158.6 L542.1,159.2 L542.8,159.7 L543.5,160.3 L544.2,160.8 L544.9,161.4 L545.6,161.9 L546.3,162.4 L547.0,163.0 L547.7,163.5 L548.4,164.1 L549.1,164.6 L549.8,165.1 L550.5,165.6 L551.2,166.2 L551.8,166.7 L552.5,167.2 L553.2,167.7 L553.9,168.3 L554.6,168.8 L555.3,169.3 L556.0,169.8 L556.7,170.3 L557.4,170.8 L558.1,171.3 L558.8,171.8 L559.5,172.3 L560.2,172.8 L560.9,173.3 L561.6,173.8 L562.3,174.2 L562.9,174.7 L563.6,175.2 L564.3,175.7 L565.0,176.2 L565.7,176.6 L566.4,177.1 L567.1,177.6 L567.8,178.0 L568.5,178.5 L569.2,178.9 L569.9,179.4 L570.6,179.9 L571.3,180.3 L572.0,180.7 L572.7,181.2 L573.3,181.6 L574.0,182.1 L574.7,182.5 L575.4,182.9 L576.1,183.4 L576.8,183.8 L577.5,184.2 L578.2,184.6 L578.9,185.0 L579.6,185.5 L580.3,185.9 L581.0,186.3 L581.7,186.7 L582.4,187.1 L583.1,187.5 L583.7,187.9 L584.4,188.3 L585.1,188.7 L585.8,189.1 L586.5,189.5 L587.2,189.8 L587.9,190.2 L588.6,190.6 L589.3,191.0 L590.0,191.3 L590.7,191.7 L591.4,192.1 L592.1,192.4 L592.8,192.8 L593.5,193.2 L594.2,193.5 L594.8,193.9 L595.5,194.2 L596.2,194.6 L596.9,194.9 L597.6,195.3 L598.3,195.6 L599.0,196.0 L599.7,196.3 L600.4,196.6 L601.1,197.0 L601.8,197.3 L602.5,197.6 L603.2,197.9 L603.9,198.3 L604.6,198.6 L605.2,198.9 L605.9,199.2 L606.6,199.5 L607.3,199.8 L608.0,200.1 L608.7,200.4 L609.4,200.7 L610.1,201.0 L610.8,201.3 L611.5,201.6 L612.2,201.9 L612.9,202.2 L613.6,202.5 L614.3,202.8 L615.0,203.1 L615.6,203.4 L616.3,203.7 L617.0,203.9 L617.7,204.2 L618.4,204.5 L619.1,204.8 L619.8,205.0 L620.5,205.3 L621.2,205.6 L621.9,205.8 L622.6,206.1 L623.3,206.3 L624.0,206.6 L624.7,206.9 L625.4,207.1 L626.1,207.4 L626.7,207.6 L627.4,207.9 L628.1,208.1 L628.8,208.4 L629.5,208.6 L630.2,208.8 L630.9,209.1 L631.6,209.3 L632.3,209.5 L633.0,209.8 L633.7,210.0 L634.4,210.2 L635.1,210.5 L635.8,210.7 L636.5,210.9 L637.1,211.1 L637.8,211.4 L638.5,211.6 L639.2,211.8 L639.9,212.0 L640.6,212.2 L641.3,212.4 L642.0,212.6 L642.7,212.9 L643.4,213.1 L644.1,213.3 L644.8,213.5 L645.5,213.7 L646.2,213.9 L646.9,214.1 L647.6,214.3 L648.2,214.5 L648.9,214.7 L649.6,214.9 L650.3,215.1 L651.0,215.2 L651.7,215.4 L652.4,215.6 L653.1,215.8 L653.8,216.0 L654.5,216.2 L655.2,216.4 L655.9,216.5 L656.6,216.7 L657.3,216.9 L658.0,217.1 L658.6,217.2 L659.3,217.4 L660.0,217.6 L660.7,217.8 L661.4,217.9 L662.1,218.1 L662.8,218.3 L663.5,218.4 L664.2,218.6 L664.9,218.8 L665.6,218.9 L666.3,219.1 L667.0,219.2 L667.7,219.4 L668.4,219.6 L669.0,219.7 L669.7,219.9 L670.4,220.0 L671.1,220.2 L671.8,220.3 L672.5,220.5 L673.2,220.6 L673.9,220.8 L674.6,220.9 L675.3,221.1 L676.0,221.2 L676.7,221.4 L677.4,221.5 L678.1,221.6 L678.8,221.8 L679.5,221.9 L680.1,222.1 L680.8,222.2 L681.5,222.3 L682.2,222.5 L682.9,222.6 L683.6,222.7 L684.3,222.9 L685.0,223.0" fill="none" stroke="#88b660" stroke-width="1.1"/>
<path d="M407.6,240.1 L408.3,239.5 L409.0,238.7 L409.7,237.8 L410.4,236.9 L411.1,235.8 L411.8,234.6 L412.5,233.3 L413.1,231.9 L413.8,230.3 L414.5,228.7 L415.2,226.9 L415.9,225.0 L416.6,222.9 L417.3,220.8 L418.0,218.5 L418.7,216.1 L419.4,213.6 L420.1,211.0 L420.8,208.3 L421.5,205.5 L422.2,202.6 L422.9,199.5 L423.6,196.5 L424.2,193.3 L424.9,190.1 L425.6,186.7 L426.3,183.4 L427.0,180.0 L427.7,176.5 L428.4,173.0 L429.1,169.5 L429.8,165.9 L430.5,162.3 L431.2,158.7 L431.9,155.1 L432.6,151.5 L433.3,147.9 L434.0,144.3 L434.6,140.8 L435.3,137.2 L436.0,133.7 L436.7,130.2 L437.4,126.8 L438.1,123.3 L438.8,120.0 L439.5,116.6 L440.2,113.4 L440.9,110.1 L441.6,107.0 L442.3,103.9 L443.0,100.8 L443.7,97.9 L444.4,95.0 L445.0,92.1 L445.7,89.4 L446.4,86.7 L447.1,84.0 L447.8,81.5 L448.5,79.0 L449.2,76.6 L449.9,74.3 L450.6,72.1 L451.3,69.9 L452.0,67.9 L452.7,65.9 L453.4,64.0 L454.1,62.1 L454.8,60.4 L455.5,58.7 L456.1,57.1 L456.8,55.5 L457.5,54.1 L458.2,52.7 L458.9,51.4 L459.6,50.2 L460.3,49.0 L461.0,47.9 L461.7,46.9 L462.4,45.9 L463.1,45.1 L463.8,44.2 L464.5,43.5 L465.2,42.8 L465.9,42.2 L466.5,41.6 L467.2,41.1 L467.9,40.7 L468.6,40.3 L469.3,40.0 L470.0,39.7 L470.7,39.5 L471.4,39.3 L472.1,39.2 L472.8,39.1 L473.5,39.1 L474.2,39.1 L474.9,39.2 L475.6,39.3 L476.3,39.5 L477.0,39.7 L477.6,39.9 L478.3,40.2 L479.0,40.5 L479.7,40.9 L480.4,41.3 L481.1,41.7 L481.8,42.2 L482.5,42.7 L483.2,43.2 L483.9,43.7 L484.6,44.3 L485.3,44.9 L486.0,45.6 L486.7,46.2 L487.4,46.9 L488.0,47.6 L488.7,48.3 L489.4,49.1 L490.1,49.9 L490.8,50.6 L491.5,51.5 L492.2,52.3 L492.9,53.1 L493.6,54.0 L494.3,54.9 L495.0,55.8 L495.7,56.7 L496.4,57.6 L497.1,58.5 L497.8,59.5 L498.4,60.4 L499.1,61.4 L499.8,62.4 L500.5,63.3 L501.2,64.3 L501.9,65.3 L502.6,66.3 L503.3,67.4 L504.0,68.4 L504.7,69.4 L505.4,70.4 L506.1,71.5 L506.8,72.5 L507.5,73.6 L508.2,74.6 L508.9,75.7 L509.5,76.7 L510.2,77.8 L510.9,78.9 L511.6,79.9 L512.3,81.0 L513.0,82.1 L513.7,83.1 L514.4,84.2 L515.1,85.3 L515.8,86.3 L516.5,87.4 L517.2,88.5 L517.9,89.5 L518.6,90.6 L519.3,91.6 L519.9,92.7 L520.6,93.8 L521.3,94.8 L522.0,95.9 L522.7,96.9 L523.4,98.0 L524.1,99.0 L524.8,100.1 L525.5,101.1 L526.2,102.1 L526.9,103.2 L527.6,104.2 L528.3,105.2 L529.0,106.2 L529.7,107.2 L530.3,108.3 L531.0,109.3 L531.7,110.3 L532.4,111.3 L533.1,112.2 L533.8,113.2 L534.5,114.2 L535.2,115.2 L535.9,116.2 L536.6,117.1 L537.3,118.1 L538.0,119.0 L538.7,120.0 L539.4,120.9 L540.1,121.9 L540.8,122.8 L541.4,123.7 L542.1,124.7 L542.8,125.6 L543.5,126.5 L544.2,127.4 L544.9,128.3 L545.6,129.2 L546.3,130.1 L547.0,131.0 L547.7,131.8 L548.4,132.7 L549.1,133.6 L549.8,134.4 L550.5,135.3 L551.2,136.1 L551.8,137.0 L552.5,137.8 L553.2,138.6 L553.9,139.5 L554.6,140.3 L555.3,141.1 L556.0,141.9 L556.7,142.7 L557.4,143.5 L558.1,144.3 L558.8,145.1 L559.5,145.8 L560.2,146.6 L560.9,147.4 L561.6,148.1 L562.3,148.9 L562.9,149.6 L563.6,150.4 L564.3,151.1 L565.0,151.8 L565.7,152.5 L566.4,153.3 L567.1,154.0 L567.8,154.7 L568.5,155.4 L569.2,156.1 L569.9,156.8 L570.6,157.5 L571.3,158.1 L572.0,158.8 L572.7,159.5 L573.3,160.1 L574.0,160.8 L574.7,161.4 L575.4,162.1 L576.1,162.7 L576.8,163.4 L577.5,164.0 L578.2,164.6 L578.9,165.2 L579.6,165.9 L580.3,166.5 L581.0,167.1 L581.7,167.7 L582.4,168.3 L583.1,168.8 L583.7,169.4 L584.4,170.0 L585.1,170.6 L585.8,171.2 L586.5,171.7 L587.2,172.3 L587.9,172.8 L588.6,173.4 L589.3,173.9 L590.0,174.5 L590.7,175.0 L591.4,175.5 L592.1,176.1 L592.8,176.6 L593.5,177.1 L594.2,177.6 L594.8,178.1 L595.5,178.6 L596.2,179.1 L596.9,179.6 L597.6,180.1 L598.3,180.6 L599.0,181.1 L599.7,181.6 L600.4,182.1 L601.1,182.5 L601.8,183.0 L602.5,183.5 L603.2,183.9 L603.9,184.4 L604.6,184.8 L605.2,185.3 L605.9,185.7 L606.6,186.2 L607.3,186.6 L608.0,187.0 L608.7,187.5 L609.4,187.9 L610.1,188.3 L610.8,188.7 L611.5,189.2 L612.2,189.6 L612.9,190.0 L613.6,190.4 L614.3,190.8 L615.0,191.2 L615.6,191.6 L616.3,192.0 L617.0,192.3 L617.7,192.7 L618.4,193.1 L619.1,193.5 L619.8,193.9 L620.5,194.2 L621.2,194.6 L621.9,195.0 L622.6,195.3 L623.3,195.7 L624.0,196.0 L624.7,196.4 L625.4,196.7 L626.1,197.1 L626.7,197.4 L627.4,197.8 L628.1,198.1 L628.8,198.4 L629.5,198.8 L630.2,199.1 L630.9,199.4 L631.6,199.7 L632.3,200.1 L633.0,200.4 L633.7,200.7 L634.4,201.0 L635.1,201.3 L635.8,201.6 L636.5,201.9 L637.1,202.2 L637.8,202.5 L638.5,202.8 L639.2,203.1 L639.9,203.4 L640.6,203.7 L641.3,204.0 L642.0,204.3 L642.7,204.6 L643.4,204.8 L644.1,205.1 L644.8,205.4 L645.5,205.7 L646.2,205.9 L646.9,206.2 L647.6,206.5 L648.2,206.7 L648.9,207.0 L649.6,207.3 L650.3,207.5 L651.0,207.8 L651.7,208.0 L652.4,208.3 L653.1,208.5 L653.8,208.8 L654.5,209.0 L655.2,209.3 L655.9,209.5 L656.6,209.7 L657.3,210.0 L658.0,210.2 L658.6,210.4 L659.3,210.7 L660.0,210.9 L660.7,211.1 L661.4,211.3 L662.1,211.6 L662.8,211.8 L663.5,212.0 L664.2,212.2 L664.9,212.4 L665.6,212.7 L666.3,212.9 L667.0,213.1 L667.7,213.3 L668.4,213.5 L669.0,213.7 L669.7,213.9 L670.4,214.1 L671.1,214.3 L671.8,214.5 L672.5,214.7 L673.2,214.9 L673.9,215.1 L674.6,215.3 L675.3,215.5 L676.0,215.7 L676.7,215.9 L677.4,216.0 L678.1,216.2 L678.8,216.4 L679.5,216.6 L680.1,216.8 L680.8,216.9 L681.5,217.1 L682.2,217.3 L682.9,217.5 L683.6,217.6 L684.3,217.8 L685.0,218.0" fill="none" stroke="#62c2e8" stroke-width="1.1"/>
<rect x="407.6" y="20.0" width="277.4" height="223.5" fill="none" stroke="#6a6a6a" stroke-width="1.5"/>
<path d="M442.3,243.5 v3 M442.3,20.0 v3 M477.0,243.5 v4 M477.0,20.0 v4 M511.6,243.5 v3 M511.6,20.0 v3 M546.3,243.5 v4 M546.3,20.0 v4 M581.0,243.5 v3 M581.0,20.0 v3 M615.6,243.5 v4 M615.6,20.0 v4 M650.3,243.5 v3 M650.3,20.0 v3 M407.6,243.5 v4 M407.6,243.5 h-4 M685.0,243.5 h-2.5 M407.6,218.7 h-3 M685.0,218.7 h-1.5 M407.6,193.9 h-4 M685.0,193.9 h-2.5 M407.6,169.0 h-3 M685.0,169.0 h-1.5 M407.6,144.2 h-4 M685.0,144.2 h-2.5 M407.6,119.4 h-3 M685.0,119.4 h-1.5 M407.6,94.6 h-4 M685.0,94.6 h-2.5 M407.6,69.7 h-3 M685.0,69.7 h-1.5 M407.6,44.9 h-4 M685.0,44.9 h-2.5" stroke="#333" stroke-width="1" fill="none"/>
<g font-family='"Liberation Sans", sans-serif' font-weight='bold' font-size='11.5' fill='#111' stroke='#111' stroke-width='0.35'>
<text x="407.6" y="257.7" text-anchor="middle">0.5</text>
<text x="477.0" y="257.7" text-anchor="middle">1.5</text>
<text x="546.3" y="257.7" text-anchor="middle">2.5</text>
<text x="615.6" y="257.7" text-anchor="middle">3.5</text>
<text x="685.0" y="257.7" text-anchor="middle">4.5</text>
<text x="401" y="247.3" text-anchor="end">0</text>
<text x="401" y="197.7" text-anchor="end">0.1</text>
<text x="401" y="148.0" text-anchor="end">0.2</text>
<text x="401" y="98.4" text-anchor="end">0.3</text>
<text x="401" y="48.7" text-anchor="end">0.4</text>
</g>
<text x='545.5' y='275.4' text-anchor='middle' font-family='"Liberation Sans", sans-serif' font-weight='bold' font-size='11.5' fill='#111' stroke='#111' stroke-width='0.35'>Wavelength/µm</text>
<text transform='translate(372.5,244) rotate(-90)' font-family='"Liberation Sans", sans-serif' font-weight='bold' font-size='11.5' fill='#111' stroke='#111' stroke-width='0.35'>Spectral radiant emittance/(W·cm<tspan dy='-3.5' font-size='7'>−2</tspan><tspan dy='3.5'>·µm</tspan><tspan dy='-3.5' font-size='7'>−1</tspan><tspan dy='3.5'>)</tspan></text>
<text x='363.5' y='16' font-family='"Liberation Sans", sans-serif' font-weight='bold' font-size='12.5' fill='#111' stroke='#111' stroke-width='0.35'>(b)</text>
<g font-family='"Liberation Sans", sans-serif' font-weight='bold' font-size='8.8' fill='#111' stroke='#111' stroke-width='0.25' text-anchor='middle'>
<text x="423" y="92.0">Si film</text>
<text x="421.5" y="103.0">1.8 eV</text>
<text x="449.7" y="121.3">Si</text>
<text x="451.2" y="132.7">1.1 eV</text>
<text x="489" y="86.4">GaSb</text>
<text x="489.4" y="97.7">0.72 eV</text>
<text x="531" y="50.3">InGaAsSb</text>
<text x="531.2" y="62.6">0.55 eV</text>
<text x="514.1" y="116.5">InGaSb</text>
<text x="514.1" y="127.5">0.60 eV</text>
<text x="509.1" y="148.9">Ge</text>
<text x="508.9" y="161.2">0.66 eV</text>
<text x="593.5" y="132.1">InAsSbP</text>
<text x="591" y="144.4">0.39 eV</text>
<text x="610.6" y="161.6">InAs</text>
<text x="611.3" y="173.1">0.36 eV</text>
</g>
<rect x="604.6" y="27.9" width="72.8" height="87.2" fill="#fff" stroke="#3a3a3a" stroke-width="1"/>
<line x1="606" y1="36.3" x2="632" y2="36.3" stroke="#4490d0" stroke-width="0.9" opacity="0.8"/>
<text x='633.7' y='40.2' font-family='"Liberation Sans", sans-serif' font-weight='bold' font-size='11.5' fill='#111' stroke='#111' stroke-width='0.35'>1 000 K</text>
<line x1="606" y1="50.5" x2="632" y2="50.5" stroke="#e27a58" stroke-width="0.9" opacity="0.8"/>
<text x='633.7' y='54.4' font-family='"Liberation Sans", sans-serif' font-weight='bold' font-size='11.5' fill='#111' stroke='#111' stroke-width='0.35'>1 200 K</text>
<line x1="606" y1="64.7" x2="632" y2="64.7" stroke="#f0bf62" stroke-width="0.9" opacity="0.8"/>
<text x='633.7' y='68.6' font-family='"Liberation Sans", sans-serif' font-weight='bold' font-size='11.5' fill='#111' stroke='#111' stroke-width='0.35'>1 400 K</text>
<line x1="606" y1="78.9" x2="632" y2="78.9" stroke="#8a55a5" stroke-width="0.9" opacity="0.8"/>
<text x='633.7' y='82.8' font-family='"Liberation Sans", sans-serif' font-weight='bold' font-size='11.5' fill='#111' stroke='#111' stroke-width='0.35'>1 600 K</text>
<line x1="606" y1="93.1" x2="632" y2="93.1" stroke="#88b660" stroke-width="0.9" opacity="0.8"/>
<text x='633.7' y='97.0' font-family='"Liberation Sans", sans-serif' font-weight='bold' font-size='11.5' fill='#111' stroke='#111' stroke-width='0.35'>1 800 K</text>
<line x1="606" y1="107.3" x2="632" y2="107.3" stroke="#62c2e8" stroke-width="0.9" opacity="0.8"/>
<text x='633.7' y='111.2' font-family='"Liberation Sans", sans-serif' font-weight='bold' font-size='11.5' fill='#111' stroke='#111' stroke-width='0.35'>2 000 K</text>
</svg>
</body></html>
